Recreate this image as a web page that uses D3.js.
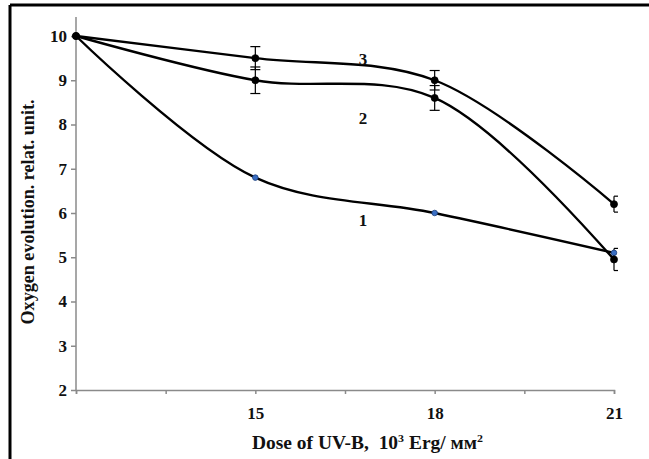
<!DOCTYPE html>
<html>
<head>
<meta charset="utf-8">
<script src="https://cdn.jsdelivr.net/npm/d3@7"></script>
<style>
    body { margin: 0; background: #fff; }
    svg text { font-family: "Liberation Serif", "Times New Roman", serif; font-weight: bold; fill: #111; }
</style>
</head>
<body>
<div id="chart-container"></div>
<script>
const doses = [12, 15, 18, 21];
const series1 = [10, 6.8, 6.0, 5.1];
const series2 = [10, 9.0, 8.6, 4.95];
const series3 = [10, 9.5, 9.0, 6.2];
const errors2 = [0, 0.3, 0.28, 0.25];
const errors3 = [0, 0.26, 0.22, 0.18];
const seriesNames = ["1", "2", "3"];
const yTicks = [2, 3, 4, 5, 6, 7, 8, 9, 10];
const xTicks = [12, 13.5, 15, 16.5, 18, 19.5, 21];
const xLabels = [15, 18, 21];

let width = 649;
let height = 459;

const svg = d3.select("#chart-container")
    .append("svg")
    .attr("width", width)
    .attr("height", height);

// outer frame (only top and left edges show in the crop)
svg.append("line").attr("x1", 10).attr("x2", width).attr("y1", 5).attr("y2", 5)
    .attr("stroke", "#000").attr("stroke-width", 3);
svg.append("line").attr("x1", 10).attr("x2", 10).attr("y1", 5).attr("y2", height)
    .attr("stroke", "#000").attr("stroke-width", 3);

const x = d3.scaleLinear().domain([12, 21]).range([76, 614]);
const y = d3.scaleLinear().domain([2, 10]).range([390, 36]);

// axes
const axisColor = "#8a8a8a";
const yAxis = svg.append("g")
    .attr("transform", `translate(${x(12)},0)`)
    .call(d3.axisLeft(y).tickValues(yTicks).tickSize(5).tickFormat(d3.format("d")));
yAxis.select(".domain").attr("d", `M0,${y(2)}V17`);
yAxis.selectAll("path, line").attr("stroke", axisColor).attr("stroke-width", 1.5);
yAxis.selectAll("text").attr("font-size", 17).attr("x", -9).attr("fill", "#111")
    .attr("font-family", "Liberation Serif").attr("font-weight", "bold");

const xAxis = svg.append("g")
    .attr("transform", `translate(0,${y(2)})`)
    .call(d3.axisBottom(x).tickValues(xTicks).tickSize(4)
        .tickFormat(d => xLabels.includes(d) ? d : ""));
xAxis.selectAll("path, line").attr("stroke", axisColor).attr("stroke-width", 1.5);
xAxis.selectAll("text").attr("font-size", 17).attr("y", 17).attr("fill", "#111")
    .attr("font-family", "Liberation Serif").attr("font-weight", "bold");

// axis titles
svg.append("text")
    .attr("transform", `translate(34,212) rotate(-90)`)
    .attr("text-anchor", "middle")
    .attr("font-size", 18)
    .attr("textLength", 225)
    .attr("lengthAdjust", "spacingAndGlyphs")
    .text("Oxygen evolution. relat. unit.");

const xTitle = svg.append("text")
    .attr("x", 252)
    .attr("y", 449)
    .attr("font-size", 18)
    .style("white-space", "pre")
    .attr("textLength", 231)
    .attr("lengthAdjust", "spacingAndGlyphs");
xTitle.append("tspan").text("Dose of UV-B,  10");
xTitle.append("tspan").attr("font-size", 11).attr("dy", -7).text("3");
xTitle.append("tspan").attr("dy", 7).text(" Erg/ мм");
xTitle.append("tspan").attr("font-size", 11).attr("dy", -7).text("2");

const line = d3.line()
    .x(d => x(d.dose))
    .y(d => y(d.value))
    .curve(d3.curveCatmullRom.alpha(0.5));

const allSeries = [series1, series2, series3].map((vals, i) => ({
    name: seriesNames[i],
    points: vals.map((v, j) => ({ dose: doses[j], value: v }))
}));

// error bars (series 2 and 3)
[[series2, errors2], [series3, errors3]].forEach(([vals, errs]) => {
    const g = svg.append("g").attr("stroke", "#000").attr("stroke-width", 1.2);
    vals.forEach((v, j) => {
        if (!errs[j]) return;
        const cx = x(doses[j]);
        const cap = j === 3 ? [cx, cx + 4] : [cx - 5, cx + 5];
        g.append("line").attr("x1", cx).attr("x2", cx)
            .attr("y1", y(v + errs[j])).attr("y2", y(v - errs[j]));
        [v + errs[j], v - errs[j]].forEach(e => {
            g.append("line").attr("x1", cap[0]).attr("x2", cap[1])
                .attr("y1", y(e)).attr("y2", y(e));
        });
    });
});

svg.append("g")
    .selectAll("path")
    .data(allSeries)
    .join("path")
    .attr("fill", "none")
    .attr("stroke", "#000")
    .attr("stroke-width", 2.4)
    .attr("d", d => line(d.points));

// markers
allSeries.forEach((s, i) => {
    svg.append("g")
        .selectAll("circle")
        .data(s.points)
        .join("circle")
        .attr("cx", d => x(d.dose))
        .attr("cy", d => y(d.value))
        .attr("r", i === 0 ? 2.8 : 3.5)
        .attr("fill", i === 0 ? "#3a6fc4" : "#000")
        .attr("stroke", i === 0 ? "#1d3f7a" : "#000")
        .attr("stroke-width", 0.8);
});

// series labels
const labelValues = [5.84, 8.15, 9.48];
svg.append("g")
    .selectAll("text")
    .data(seriesNames)
    .join("text")
    .attr("x", x(16.8))
    .attr("y", (d, i) => y(labelValues[i]))
    .attr("text-anchor", "middle")
    .attr("dy", "0.35em")
    .attr("font-size", 17)
    .text(d => d);
</script>
</body>
</html>
